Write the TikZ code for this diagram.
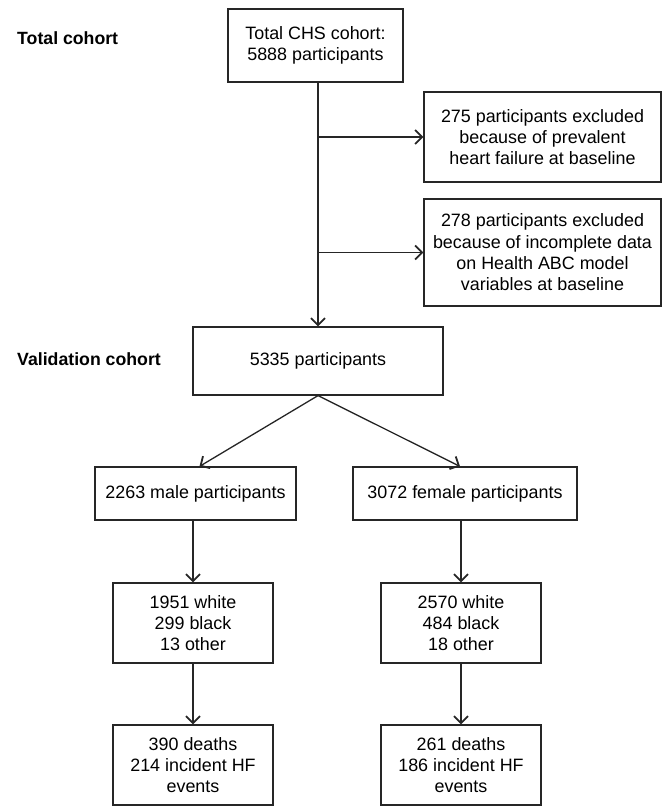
\documentclass[tikz,border=0pt]{standalone}
\usepackage{fontspec}
\setmainfont{Liberation Sans}
\usetikzlibrary{arrows.meta}
\begin{document}
\begin{tikzpicture}[x=1pt,y=-1pt,
  box/.style={draw=black!85, line width=1.2pt, align=center, inner sep=0pt,
    font=\fontsize{17.9pt}{21.3pt}\selectfont, text=black},
  lbl/.style={font=\fontsize{17.7pt}{21.3pt}\selectfont\bfseries, anchor=west, inner sep=0pt},
  conn/.style={draw=black!85, line width=1.3pt, -{Straight Barb[length=7pt,width=14pt,line width=1.8pt]}}]
\useasboundingbox (0,0) rectangle (662,806);
\node[lbl] (ltot) at (17,38) {Total cohort};
\node[lbl] (lval) at (17,359) {Validation cohort};
\node[box, minimum width=175pt, minimum height=73pt] (top) at (315.5,45.5) {Total CHS cohort:\\5888 participants};
\node[box, minimum width=237pt, minimum height=90pt] (ex1) at (542.5,137) {275 participants excluded\\because of prevalent\\heart failure at baseline};
\node[box, minimum width=237pt, minimum height=107pt] (ex2) at (542.5,252.5) {278 participants excluded\\because of incomplete data\\on Health ABC model\\variables at baseline};
\node[box, minimum width=250pt, minimum height=68pt] (val) at (318,361) {5335 participants};
\node[box, minimum width=201pt, minimum height=53pt] (male) at (195.5,493.5) {2263 male participants};
\node[box, minimum width=224pt, minimum height=53pt] (female) at (465,493.5) {3072 female participants};
\node[box, minimum width=160pt, minimum height=80pt] (mrace) at (193,623) {1951 white\\299 black\\13 other};
\node[box, minimum width=160pt, minimum height=80pt] (frace) at (461,623) {2570 white\\484 black\\18 other};
\node[box, minimum width=160pt, minimum height=80pt] (mdeath) at (193,765) {390 deaths\\214 incident HF\\events};
\node[box, minimum width=160pt, minimum height=80pt] (fdeath) at (461,765) {261 deaths\\186 incident HF\\events};
\coordinate (tbot) at (top.south -| val.north);
\draw[conn] (tbot) -- (val.north);
\draw[conn] (ex1.west -| val.north) -- (ex1.west);
\draw[conn] (ex2.west -| val.north) -- (ex2.west);
\draw[conn] (val.south) -- ([xshift=4pt]male.north);
\draw[conn] (val.south) -- ([xshift=-5pt]female.north);
\draw[conn] (male.south -| mrace.north) -- (mrace.north);
\draw[conn] (female.south -| frace.north) -- (frace.north);
\draw[conn] (mrace.south) -- (mdeath.north);
\draw[conn] (frace.south) -- (fdeath.north);
\end{tikzpicture}
\end{document}
